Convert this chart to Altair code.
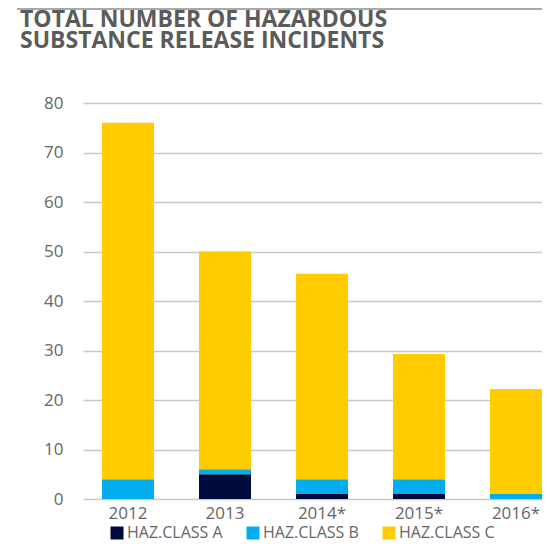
import altair as alt
import pandas as pd

years = ["2012", "2013", "2014*", "2015*", "2016*"]
class_a = [0, 5, 1, 1, 0]
class_b = [4, 1, 3, 3, 1]
class_c = [72, 44, 41.5, 25.3, 21.2]
series = ["HAZ.CLASS A", "HAZ.CLASS B", "HAZ.CLASS C"]
colors = ["#000B3D", "#00AEEF", "#FFCC00"]
title_lines = ["TOTAL NUMBER OF HAZARDOUS", "SUBSTANCE RELEASE INCIDENTS"]
y_ticks = [0, 10, 20, 30, 40, 50, 60, 70, 80]

rows = []
for i, y in enumerate(years):
    for k, (name, vals) in enumerate(zip(series, [class_a, class_b, class_c])):
        rows.append({"year": y, "cls": name, "value": vals[i], "ord": k})
df = pd.DataFrame(rows)

FONT = "Open Sans"
GREY = "#666666"

bars = alt.Chart(df).mark_bar().encode(
    x=alt.X("year:N", sort=years,
            scale=alt.Scale(paddingInner=0.464, paddingOuter=0.098, align=1),
            axis=alt.Axis(title=None, labelAngle=0, domain=False, ticks=False,
                          labelFontSize=17, labelColor=GREY, labelFont=FONT,
                          labelPadding=6)),
    y=alt.Y("value:Q", stack="zero",
            scale=alt.Scale(domain=[0, 80], nice=False),
            axis=alt.Axis(title=None, values=y_ticks, domain=False, ticks=False,
                          grid=True, gridColor="#c8c8c8", gridWidth=1.3,
                          labelFontSize=17, labelColor=GREY, labelFont=FONT,
                          labelPadding=20)),
    color=alt.Color("cls:N", scale=alt.Scale(domain=series, range=colors),
                    legend=alt.Legend(title=None, orient="none", legendX=26, legendY=422,
                                      direction="horizontal", symbolType="square",
                                      symbolSize=169, symbolStrokeWidth=0,
                                      labelFontSize=16, labelColor=GREY, labelFont=FONT,
                                      labelOffset=2, columnPadding=22, padding=0)),
    order=alt.Order("ord:Q", sort="ascending"),
)

topline = alt.Chart(pd.DataFrame({"a": [0]})).mark_rule(color="#8c8c8c", strokeWidth=1.5).encode(
    x=alt.value(-66), x2=alt.value(459), y=alt.value(-94)
)

chart = alt.layer(topline, bars).properties(
    width=459, height=396,
    autosize=alt.AutoSizeParams(type="none"),
    padding={"left": 75, "top": 95, "right": 0, "bottom": 42},
    title=alt.TitleParams(title_lines, anchor="start", frame="group", dx=-63, dy=55,
                          fontSize=23, lineHeight=21, font=FONT, fontWeight="bold",
                          color="#5b5b5b", offset=10),
).configure_view(stroke=None)

chart.save("out.html", embed_options={"renderer": "svg", "actions": False})
